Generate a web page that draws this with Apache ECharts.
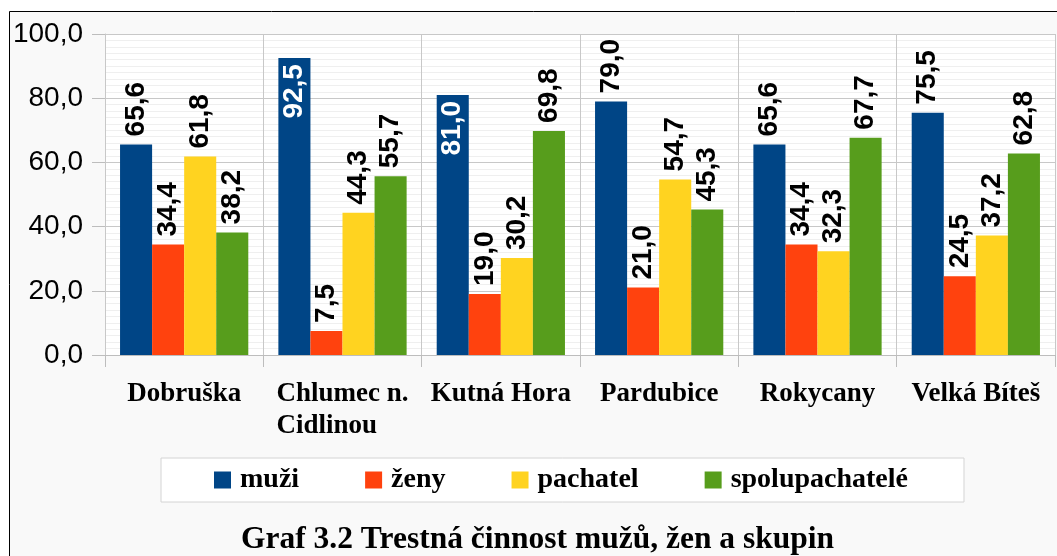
<!DOCTYPE html>
<html>
<head>
<meta charset="utf-8">
<title>Graf 3.2</title>
<script src="https://cdn.jsdelivr.net/npm/echarts@6/dist/echarts.min.js"></script>
<style>
  html, body { margin: 0; padding: 0; background: #fff; }
  #chart { width: 1057px; height: 556px; }
</style>
</head>
<body>
<div id="chart"></div>
<script>
// data
const categories = ['Dobruška', 'Chlumec n.\nCidlinou', 'Kutná Hora', 'Pardubice', 'Rokycany', 'Velká Bíteš']
const muzi = [65.6, 92.5, 81.0, 79.0, 65.6, 75.5]
const zeny = [34.4, 7.5, 19.0, 21.0, 34.4, 24.5]
const pachatel = [61.8, 44.3, 30.2, 54.7, 32.3, 37.2]
const spolupachatele = [38.2, 55.7, 69.8, 45.3, 67.7, 62.8]
const seriesNames = ['muži', 'ženy', 'pachatel', 'spolupachatelé']
const colors = ['#004586', '#ff420e', '#ffd320', '#579d1c']
const yTicks = [0, 20, 40, 60, 80, 100]

const fmt = (v) => v.toFixed(1).replace('.', ',')

const chart = echarts.init(document.getElementById('chart'))

function makeSeries(name, values, color) {
  return {
    type: 'bar',
    name: name,
    barGap: 0,
    barCategoryGap: '19%',
    itemStyle: { color: color },
    label: {
      show: true,
      position: 'top',
      rotate: 90,
      align: 'left',
      verticalAlign: 'middle',
      distance: 8,
      fontFamily: 'Liberation Sans',
      fontWeight: 'bold',
      fontSize: 28,
      color: '#000',
      formatter: (p) => fmt(p.value)
    },
    data: values.map((v) => {
      // tall bars carry their label inside, in white
      if (v > 80) {
        return {
          value: v,
          label: { position: 'insideTop', align: 'right', distance: 6, color: '#fff' }
        }
      }
      return v
    })
  }
}

const option = {
  animation: false,
  color: colors,
  graphic: [
    {
      type: 'rect',
      z: -10,
      shape: { x: 9.5, y: 11.5, width: 1100, height: 600 },
      style: { fill: '#f9f9f9', stroke: '#000', lineWidth: 1 }
    }
  ],
  title: {
    text: 'Graf 3.2 Trestná činnost mužů, žen a skupin',
    left: 241,
    top: 524,
    padding: 0,
    textStyle: {
      fontFamily: 'Liberation Serif',
      fontWeight: 'bold',
      fontSize: 31.5,
      color: '#000'
    }
  },
  legend: {
    data: seriesNames,
    left: 161,
    top: 458,
    padding: [8, 56, 8, 53],
    itemGap: 66,
    itemWidth: 17,
    itemHeight: 17,
    icon: 'rect',
    borderColor: '#d4d4d4',
    borderWidth: 1,
    backgroundColor: '#fff',
    textStyle: {
      fontFamily: 'Liberation Serif',
      fontWeight: 'bold',
      fontSize: 28,
      color: '#000',
      padding: [0, 0, 0, 4]
    }
  },
  grid: {
    left: 105,
    right: 2,
    top: 34,
    bottom: 201,
    show: true,
    backgroundColor: '#fff',
    borderWidth: 0
  },
  xAxis: {
    type: 'category',
    data: categories,
    axisLine: { lineStyle: { color: '#bdbdbd', width: 1 } },
    axisTick: { show: true, length: 12, lineStyle: { color: '#bdbdbd' } },
    splitLine: { show: true, interval: 0, lineStyle: { color: '#c8c8c8' } },
    axisLabel: {
      interval: 0,
      margin: 23,
      color: '#000',
      // two-line names keep their lines left aligned, like the original
      formatter: (v) => v.split('\n').map((s) => '{c|' + s + '}').join('\n'),
      rich: {
        c: {
          fontFamily: 'Liberation Serif',
          fontWeight: 'bold',
          fontSize: 27,
          lineHeight: 32,
          color: '#000',
          align: 'left'
        }
      }
    }
  },
  yAxis: {
    type: 'value',
    min: yTicks[0],
    max: yTicks[yTicks.length - 1],
    interval: 20,
    axisLine: { show: true, lineStyle: { color: '#c8c8c8' } },
    axisTick: { show: true, length: 13, lineStyle: { color: '#bdbdbd' } },
    minorTick: { show: false, splitNumber: 10 },
    minorSplitLine: { show: true, lineStyle: { color: '#efefef' } },
    splitLine: { lineStyle: { color: '#c8c8c8' } },
    axisLabel: {
      margin: 22,
      fontFamily: 'Liberation Sans',
      fontSize: 28,
      color: '#000',
      formatter: (v) => fmt(v)
    }
  },
  series: [
    makeSeries(seriesNames[0], muzi, colors[0]),
    makeSeries(seriesNames[1], zeny, colors[1]),
    makeSeries(seriesNames[2], pachatel, colors[2]),
    makeSeries(seriesNames[3], spolupachatele, colors[3])
  ]
}

chart.setOption(option)

window.addEventListener('resize', () => {
  chart.resize()
})
</script>
</body>
</html>
